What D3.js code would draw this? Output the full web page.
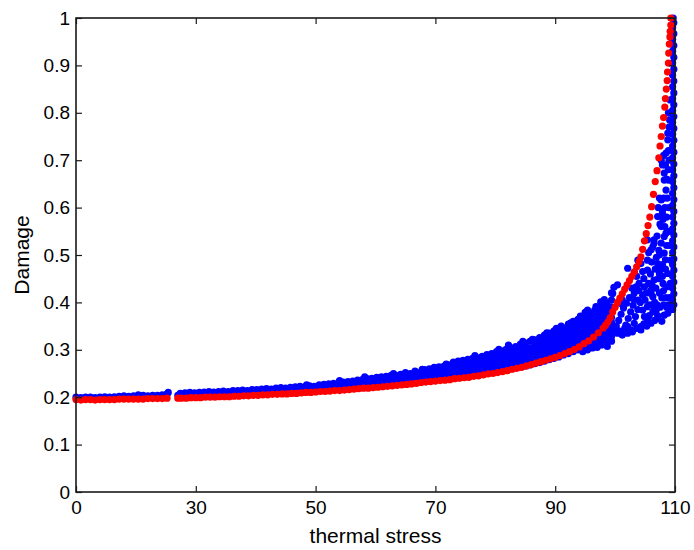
<!DOCTYPE html>
<html>
<head>
<meta charset="utf-8">
<script src="https://cdn.jsdelivr.net/npm/d3@7"></script>
<style>
  html, body { margin: 0; padding: 0; background: #fff; }
  svg { display: block; font-family: "Liberation Sans", Arial, Helvetica, sans-serif; }
</style>
</head>
<body>
<svg id="chart" width="694" height="550"></svg>
<script>
// Axis labels
const xTickLabels = ["0", "30", "50", "70", "90", "110"];
const yTickValues = [0, 0.1, 0.2, 0.3, 0.4, 0.5, 0.6, 0.7, 0.8, 0.9, 1];
const xTitle = "thermal stress";
const yTitle = "Damage";

// Model curve (red): [position along the stress axis, damage]
const redPoints = [
  [0,.195],[0.8,.194],[1.6,.195],[2.4,.195],[3.2,.194],[4.0,.195],[4.8,.195],[5.6,.195],[6.4,.195],[7.2,.196],
  [8.0,.196],[8.8,.196],[9.6,.196],[10.4,.196],[11.2,.196],[12.0,.197],[12.8,.197],[13.6,.197],[14.4,.197],[15.2,.198],
  [17.0,.198],[17.6,.198],[18.4,.198],[19.2,.199],[20.0,.199],[20.8,.199],[21.6,.2],[22.4,.2],[23.2,.2],[24.0,.201],[24.8,.201],
  [25.6,.201],[26.4,.202],[27.2,.202],[28.0,.203],[28.8,.203],[29.6,.204],[30.4,.204],[31.2,.205],[32.0,.205],[32.8,.206],
  [33.6,.206],[34.4,.207],[35.2,.207],[36.0,.208],[36.8,.208],[37.6,.209],[38.4,.21],[39.2,.21],[40.0,.211],[40.8,.212],
  [41.6,.212],[42.4,.213],[43.2,.214],[44.0,.214],[44.8,.215],[45.6,.216],[46.4,.217],[47.2,.218],[48.0,.219],[48.8,.219],
  [49.6,.22],[50.4,.221],[51.2,.222],[52.0,.223],[52.8,.224],[53.6,.225],[54.4,.226],[55.2,.227],[56.0,.228],[56.8,.229],
  [57.6,.231],[58.4,.232],[59.2,.233],[60.0,.234],[60.8,.235],[61.6,.236],[62.4,.237],[63.2,.239],[64.0,.24],[64.8,.241],
  [65.6,.242],[66.4,.244],[67.2,.245],[68.0,.247],[68.8,.249],[69.6,.25],[70.4,.252],[71.2,.254],[72.0,.256],[72.8,.259],
  [73.6,.261],[74.4,.263],[75.2,.266],[76.0,.269],[76.8,.272],[77.6,.275],[78.4,.278],[79.2,.281],[80.0,.284],[80.8,.288],
  [81.6,.292],[82.4,.296],[83.2,.301],[84.0,.306],[84.8,.313],[85.6,.319],[86.4,.327],[87.2,.336],[88.0,.346],
  [88.4,.352],[88.8,.359],[89.2,.368],[89.6,.38],[90.0,.39],[90.4,.4],[90.8,.409],[91.2,.418],[91.6,.428],[92.0,.437],
  [92.4,.446],[92.8,.455],[93.2,.464],[93.6,.475],[94.0,.486],[94.3,.496],[94.6,.512],[94.9,.53],[95.2,.545],[95.5,.562],
  [95.8,.58],[96.1,.602],[96.4,.628],[96.7,.655],[97.0,.678],[97.3,.705],[97.5,.73],[97.7,.75],[97.9,.772],[98.1,.79],
  [98.3,.812],[98.4,.83],[98.55,.85],[98.7,.868],[98.75,.886],[98.9,.905],[98.95,.926],[99.05,.945],[99.15,.96],[99.2,.972],
  [99.3,.985],[99.3,1.0]
];

// Observations (blue), low-stress stretch
const blueLow = [
  [0,.2],[0.8,.199],[1.6,.2],[2.4,.2],[3.2,.199],[4.0,.2],[4.8,.201],[5.6,.2],[6.4,.201],[7.2,.202],[8.0,.203],
  [8.8,.202],[9.6,.203],[10.4,.205],[11.2,.204],[12.0,.203],[12.8,.204],[13.6,.204],[14.4,.205],[15.2,.207],[15.4,.21],
  [17.0,.204]
];

// Observations (blue), main band: [position, [damage values at that position]]
const blueBand = [
  [17.4,[.204,.208]],[18.2,[.205,.209]],[19.0,[.205,.21]],[19.8,[.205,.209]],[20.6,[.206,.21]],[21.4,[.206,.211]],
  [22.2,[.206,.212]],[23.0,[.207,.211]],[23.8,[.207,.212]],[24.6,[.207,.213]],[25.4,[.208,.212]],[26.2,[.208,.214]],
  [27.0,[.208,.214]],[27.8,[.209,.215]],[28.6,[.209,.214]],[29.4,[.209,.216]],[30.2,[.21,.216]],[31.0,[.21,.217]],
  [31.8,[.211,.218]],[32.6,[.211,.217]],[33.4,[.212,.219]],[34.2,[.212,.22]],[35.0,[.213,.219]],[35.8,[.213,.221]],
  [36.6,[.214,.222]],[37.4,[.214,.218,.223]],[38.2,[.215,.222]],[39.0,[.215,.219,.224]],[39.8,[.216,.223]],
  [40.6,[.216,.221,.226]],[41.4,[.217,.222,.227]],[42.2,[.218,.223,.228]],[43.0,[.218,.224,.229]],[43.8,[.219,.225,.23]],
  [44.6,[.22,.226,.232]],[45.4,[.221,.227,.233]],[46.2,[.221,.228,.234]],[47.0,[.222,.229,.236]],[47.8,[.223,.23,.237]],
  [48.6,[.224,.231,.239]],[49.4,[.225,.233,.24]],[50.2,[.226,.234,.242]],[51.0,[.227,.235,.243]],[51.8,[.228,.236,.244]],
  [52.6,[.229,.237,.246]],[53.4,[.23,.238,.246]],[54.2,[.231,.239,.248]],[55.0,[.232,.24,.249,.252]],[55.8,[.233,.241,.25]],
  [56.6,[.234,.242,.251,.255]],[57.4,[.235,.243,.252]],[58.2,[.236,.244,.253,.258]],[59.0,[.237,.245,.254,.26]],
  [59.8,[.238,.246,.255,.263]],[60.6,[.239,.247,.256,.264]],[61.4,[.24,.248,.257,.265]],[62.2,[.241,.249,.258,.268]],
  [63.0,[.242,.25,.259,.268,.274]],[63.8,[.243,.251,.26,.269,.276]],[64.6,[.244,.252,.261,.27,.278]],
  [65.4,[.246,.254,.263,.272,.28]],[66.2,[.247,.255,.264,.273,.282]],[67.0,[.248,.256,.265,.274,.283]],
  [67.8,[.25,.258,.267,.276,.286]],[68.6,[.251,.259,.268,.277,.286,.29]],[69.4,[.253,.261,.27,.279,.288,.292]],
  [70.2,[.255,.263,.272,.281,.29,.296]],[71.0,[.257,.265,.274,.283,.292,.298]],[71.8,[.258,.267,.276,.285,.294,.301]],
  [72.6,[.26,.269,.278,.287,.296,.304]],[73.4,[.262,.271,.28,.289,.298,.307]],[74.2,[.264,.273,.282,.291,.3,.312]],
  [75.0,[.266,.275,.284,.293,.302,.314]],[75.8,[.268,.277,.286,.295,.304,.318]],[76.6,[.271,.28,.289,.298,.307,.316,.321]],
  [77.4,[.273,.282,.291,.3,.309,.318,.326]],[78.2,[.276,.285,.294,.303,.312,.321,.331]],[79.0,[.279,.288,.297,.306,.315,.324,.335]],
  [79.8,[.282,.291,.3,.309,.318,.327,.34]],[80.6,[.285,.294,.303,.312,.321,.33,.342]],[81.4,[.289,.298,.307,.316,.325,.334,.346]],
  [82.2,[.292,.301,.31,.319,.328,.337,.346,.354]],[83.0,[.296,.305,.314,.323,.332,.341,.35,.36]],
  [83.8,[.3,.309,.318,.327,.336,.345,.354,.364]],[84.6,[.296,.305,.314,.323,.332,.341,.35,.359,.369]],
  [85.4,[.3,.309,.318,.327,.336,.345,.354,.363,.373]],[86.2,[.304,.313,.322,.331,.34,.349,.358,.367,.377]],
  [87.0,[.305,.314,.323,.332,.341,.35,.359,.368,.378,.39]],[87.8,[.31,.319,.328,.337,.346,.355,.364,.373,.383,.395]],
  [88.6,[.312,.322,.331,.34,.349,.358,.367,.376,.386,.398]],[89.4,[.318,.328,.338,.348,.358,.368,.378,.39,.405,.42]]
];

// Observations (blue) sitting above the band's upper edge
const blueEdge = [
  [38.5,.226],[44,.235],[48.2,.243],[53,.25],[57.8,.259],[61.8,.27],[66.6,.288],[70.6,.301],[72.2,.31],[74.6,.318],
  [76.2,.322],[78.6,.336],[80.2,.345],[82.6,.357],[84.2,.371],[86.6,.384],[88.2,.406],[89.8,.432],[85,.379],[81,.35]
];

// Observations (blue), high-stress scatter
const blueScatter = [
  [86.2,.307],[87.3,.31],[88.2,.321],[88.7,.307],[89.3,.321],[90.4,.335],[91.0,.335],[91.2,.331],[92.1,.335],[92.6,.342],
  [92.1,.349],[93.2,.356],[94.3,.349],[94.3,.342],[95.4,.363],[96.0,.356],[94.9,.37],
  [90.2,.35],[90.6,.362],[91.0,.375],[91.4,.388],[90.8,.398],[91.8,.352],[92.2,.366],[92.6,.38],[93.0,.394],[92.4,.41],
  [93.4,.37],[93.8,.385],[94.2,.4],[94.6,.415],[93.2,.42],[94.0,.44],[94.8,.45],[95.6,.44],[95.0,.405],[95.8,.395],
  [96.6,.4],[96.8,.43],[97.2,.45],[97.6,.47],[98.0,.44],[97.8,.41],
  [96.3,.412],[96.0,.419],[96.5,.391],[97.1,.366],[97.1,.372],[98.2,.373],[98.8,.377],[93.8,.405],[95.4,.391],[94.6,.384],
  [96.0,.426],[94.9,.433],[96.5,.447],[97.4,.461],[98.8,.461],[98.8,.433],[95.4,.468],[97.1,.482],[94.3,.482],[93.8,.489],
  [95.4,.489],[96.0,.511],[95.6,.505],[96.3,.517],[96.5,.525],[97.7,.525],[95.4,.532],[96.5,.532],[98.2,.539],[98.5,.546],
  [97.7,.56],[98.2,.504],[99.3,.489],[97.1,.581],[97.9,.595],[97.4,.62],[98.5,.637],[98.2,.658],[97.7,.616],[97.9,.588],
  [98.2,.673],[98.9,.658],[97.7,.70],[97.9,.69],[98.5,.715],[98.8,.743],[98.8,.757],[99.1,.785],[99.2,.827],[92.1,.472],
  [93.5,.433],[90.4,.437],[89.6,.419],[87.6,.401],[86.8,.391],[85.4,.384],[93.2,.464],
  [96.9,.495],[97.3,.51],[97.9,.48],[98.4,.49],[98.6,.52],[97.0,.54],[97.5,.565],[98.0,.575],[98.3,.6],[98.7,.62],
  [98.6,.58],[99.0,.55],[99.0,.6],[99.0,.7],[98.9,.68],[99.1,.52],[99.2,.44],[99.1,.41],[98.5,.41],[98.9,.395],
  [89.8,.345],[90.6,.34],[91.6,.345],[92.9,.338],[93.6,.345],[94.8,.355],[95.7,.372],[96.3,.38],[96.9,.385],[97.5,.39],
  [98.1,.395],[97.4,.42],[96.2,.435],[95.2,.42],[94.0,.425],[93.0,.408],[91.9,.398],[91.2,.405],[92.8,.43],[95.9,.46],
  [96.7,.47],[97.9,.455],[98.4,.47],[98.1,.425],[97.0,.395],[95.3,.35],[96.6,.362],[97.8,.36],[98.6,.39],[93.6,.455],
  [94.6,.465],[96.1,.485],[97.4,.5],[98.3,.56],[97.2,.6],[98.1,.62],[98.6,.66],[98.4,.69],[98.1,.71],[98.9,.72],
  [99.0,.77],[98.9,.8]
];

// Observations (blue) at the highest stress level
const blueColumn = [
  [99.6,.385],[99.8,.395],[99.6,.405],[99.8,.418],[99.6,.43],[99.8,.443],[99.6,.455],[99.8,.468],[99.6,.48],[99.8,.492],
  [99.6,.505],[99.8,.517],[99.6,.53],[99.8,.542],[99.6,.555],[99.8,.567],[99.6,.58],[99.8,.592],[99.6,.605],[99.8,.617],
  [99.6,.63],[99.8,.642],[99.6,.655],[99.8,.667],[99.6,.68],[99.8,.692],[99.6,.705],[99.8,.717],[99.6,.73],[99.8,.742],
  [99.6,.755],[99.8,.767],[99.6,.78],[99.8,.792],[99.6,.805],[99.8,.817],[99.6,.83],[99.8,.842],[99.6,.855],[99.8,.867],
  [99.6,.88],[99.8,.892],[99.6,.905],[99.8,.917],[99.6,.93],[99.8,.942],[99.6,.955],[99.8,.967],[99.6,.98],[99.8,.99],
  [99.7,1.0]
];

// ---- layout ----
const svg = d3.select("#chart");
const W = 694, H = 550;
const plot = { left: 76, right: 675, top: 18, bottom: 492 };
const dotR = 3.6;

svg.append("rect").attr("width", W).attr("height", H).attr("fill", "#fff");

const x = d3.scaleLinear().domain([0, 100]).range([plot.left, plot.right]);
const xLab = d3.scalePoint().domain(xTickLabels).range([plot.left, plot.right]);
const y = d3.scaleLinear().domain([0, 1]).range([plot.bottom, plot.top]);

const bluePoints = []
  .concat(blueLow)
  .concat(blueBand.flatMap(([px, vs]) => vs.map(v => [px, v])))
  .concat(blueEdge)
  .concat(blueScatter)
  .concat(blueColumn);

// blue observations first, model curve on top
svg.append("g").selectAll("circle").data(bluePoints).join("circle")
  .attr("cx", d => x(d[0])).attr("cy", d => y(d[1])).attr("r", dotR)
  .attr("fill", "#0000ff");

svg.append("g").selectAll("circle").data(redPoints).join("circle")
  .attr("cx", d => x(d[0])).attr("cy", d => y(d[1])).attr("r", dotR)
  .attr("fill", "#ff0000");

// ---- axes (box with inward ticks) ----
const axisColor = "#1a1a1a";
const tickLen = 6;
const tickFont = 19;

const gx = svg.append("g").attr("transform", `translate(0,${plot.bottom})`)
  .call(d3.axisBottom(xLab).tickSizeInner(-tickLen).tickSizeOuter(0).tickPadding(9));
const gy = svg.append("g").attr("transform", `translate(${plot.left},0)`)
  .call(d3.axisLeft(y).tickValues(yTickValues).tickFormat(d3.format("~g"))
        .tickSizeInner(-tickLen).tickSizeOuter(0).tickPadding(6));
const gxTop = svg.append("g").attr("transform", `translate(0,${plot.top})`)
  .call(d3.axisTop(xLab).tickSizeInner(-tickLen).tickSizeOuter(0).tickFormat(""));
const gyRight = svg.append("g").attr("transform", `translate(${plot.right},0)`)
  .call(d3.axisRight(y).tickValues(yTickValues).tickSizeInner(-tickLen).tickSizeOuter(0).tickFormat(""));

[gx, gy, gxTop, gyRight].forEach(g => {
  g.select(".domain").remove();
  g.selectAll(".tick line").attr("stroke", axisColor).attr("stroke-width", 1.2);
  g.selectAll(".tick text").attr("fill", "#000").attr("font-size", tickFont)
    .attr("font-family", "'Liberation Sans', Arial, sans-serif");
});

svg.append("rect")
  .attr("x", plot.left).attr("y", plot.top)
  .attr("width", plot.right - plot.left).attr("height", plot.bottom - plot.top)
  .attr("fill", "none").attr("stroke", axisColor).attr("stroke-width", 1.6);

// ---- titles ----
svg.append("text")
  .attr("x", (plot.left + plot.right) / 2).attr("y", 543)
  .attr("text-anchor", "middle").attr("font-size", 21).attr("fill", "#000")
  .text(xTitle);

svg.append("text")
  .attr("transform", `translate(29,${(plot.top + plot.bottom) / 2}) rotate(-90)`)
  .attr("text-anchor", "middle").attr("font-size", 21).attr("fill", "#000")
  .text(yTitle);
</script>
</body>
</html>
